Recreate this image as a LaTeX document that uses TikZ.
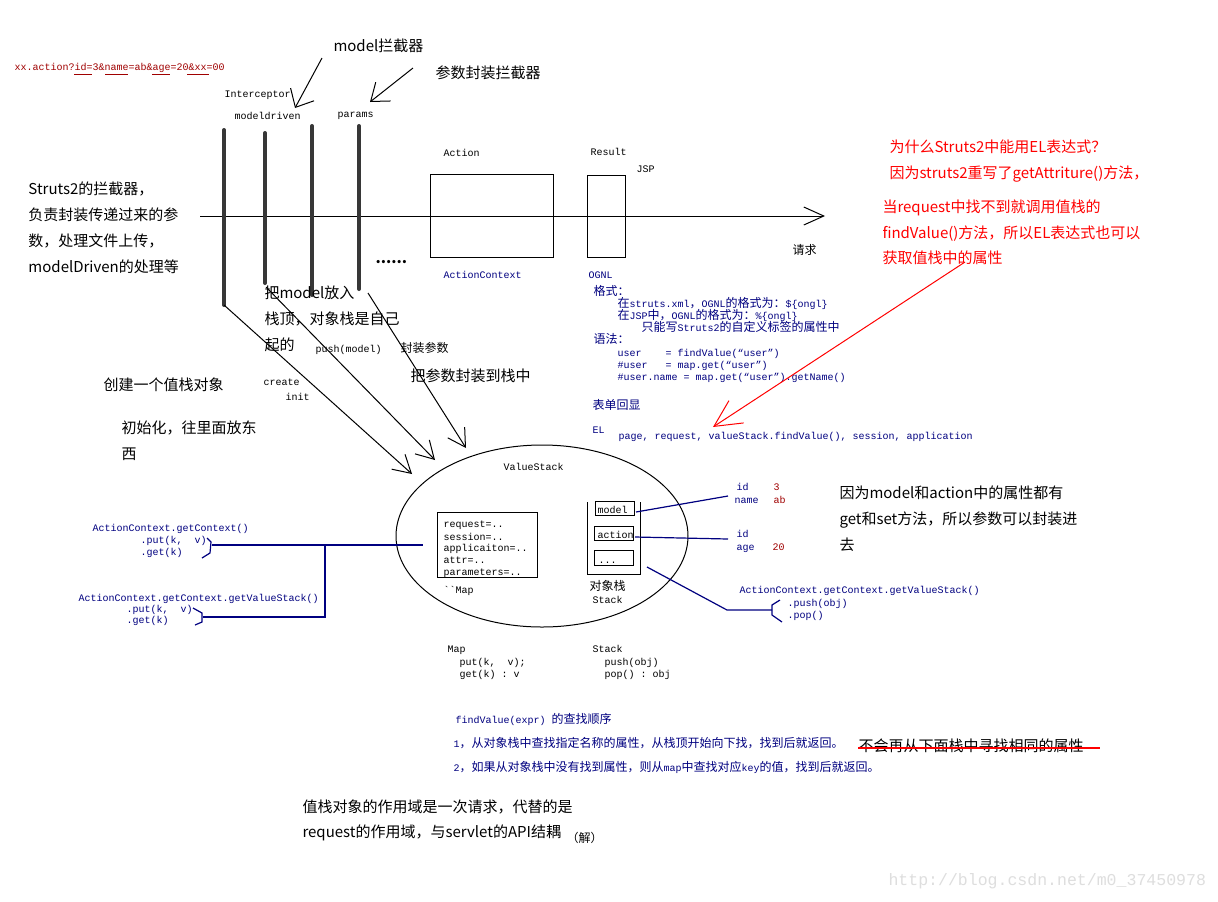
\documentclass[tikz,border=0pt]{standalone}
\usepackage{fontspec}
\setmonofont{Liberation Mono}
\newfontfamily\cjk{Noto Sans CJK SC}
\usetikzlibrary{arrows.meta}
\definecolor{navy}{RGB}{0,0,128}
\definecolor{dred}{RGB}{160,0,0}
\definecolor{bargray}{RGB}{55,55,55}
\definecolor{wm}{RGB}{222,222,222}
\newcommand\zh[1]{{\cjk\fontsize{9}{9}\selectfont #1}}
\tikzset{
  sm/.style={font=\ttfamily\fontsize{7.5}{9}\selectfont, inner sep=0pt, anchor=west, text height=7pt, text depth=1pt},
  lg/.style={font=\cjk\fontsize{11.25}{13}\selectfont, inner sep=0pt, anchor=west, text height=10.6pt, text depth=2pt},
  bar/.style={line width=3pt, draw=bargray, line cap=round},
  bluel/.style={draw=navy, line width=0.9pt},
  box/.style={draw, inner sep=0pt}
}
\begin{document}
\begin{tikzpicture}[x=0.75pt,y=-0.75pt,line width=0.75pt]
\fill[white] (0,0) rectangle (1218,901);
\useasboundingbox (0,0) rectangle (1218,901);

% URL
\node[sm,text=dred] (url) at (14,66) {xx.action?id=3\&name=ab\&age=20\&xx=00};
\foreach \a/\b in {74/92,105/128,152/170,187/209} \draw[dred] (\a,74) -- (\b,74);

% top labels
\node[lg] (lmodel) at (333,46) {model拦截器};
\node[lg] (lparams) at (435,73) {参数封装拦截器};
\coordinate (m1) at (322,58); \coordinate (m2) at (295,108);
\draw[-{Straight Barb[length=11pt,width=20pt]}] (m1) -- (m2);
\coordinate (p1) at (413,68); \coordinate (p2) at (370,102);
\draw[-{Straight Barb[length=12pt,width=18pt]}] (p1) -- (p2);

\node[sm] (icp) at (224,93) {Interceptor};
\node[sm] (md) at (234,115) {modeldriven};
\node[sm] (prm) at (337,113) {params};

% main request line
\coordinate (hs) at (200,216); \coordinate (he) at (825,216);
\draw[-{Straight Barb[length=15pt,width=13.5pt]}] (hs) -- (he);
\node[font=\cjk\fontsize{9}{9}\selectfont, inner sep=0pt, anchor=west] (req) at (792,250) {请求};

% interceptor bars
\coordinate (b1t) at (224,130); \coordinate (b1b) at (224,305);
\coordinate (b2t) at (265,133); \coordinate (b2b) at (265,283);
\coordinate (b3t) at (312,126); \coordinate (b3b) at (312,295);
\coordinate (b4t) at (359,126); \coordinate (b4b) at (359,289);
\draw[bar] (b1t) -- (b1b);
\draw[bar] (b2t) -- (b2b);
\draw[bar] (b3t) -- (b3b);
\draw[bar] (b4t) -- (b4b);
\node[lg,font=\cjk\bfseries\fontsize{11.25}{13}\selectfont] (dots) at (375,258) {......};

% Action / Result
\node[box, minimum width=92.25pt, minimum height=62.25pt] (action) at (491.5,215.5) {};
\node[sm] (lact) at (443,152) {Action};
\node[sm,text=navy] (lactc) at (443,274) {ActionContext};
\node[box, minimum width=28.5pt, minimum height=61.5pt] (result) at (606,216) {};
\node[sm] (lres) at (590,151) {Result};
\node[sm] (ljsp) at (636,168) {JSP};
\node[sm,text=navy] (logn) at (588,274) {OGNL};

% OGNL block
\node[sm,text=navy] (g1) at (593,291) {\zh{格式：}};
\node[sm,text=navy] (g2) at (617,303) {\zh{在}struts.xml\zh{，}OGNL\zh{的格式为：}\$\{ongl\}};
\node[sm,text=navy] (g3) at (617,315) {\zh{在}JSP\zh{中，}OGNL\zh{的格式为：}\%\{ongl\}};
\node[sm,text=navy] (g4) at (641,327) {\zh{只能写}Struts2\zh{的自定义标签的属性中}};
\node[sm,text=navy] (g5) at (593,339) {\zh{语法：}};
\node[sm,text=navy] (g6) at (617,352) {user~~~~= findValue(“user”)};
\node[sm,text=navy] (g7) at (617,364) {\#user~~~= map.get(“user”)};
\node[sm,text=navy] (g8) at (617,376) {\#user.name = map.get(“user”).getName()};
\node[sm,text=navy] (g9) at (592,405) {\zh{表单回显}};
\node[sm,text=navy] (g10) at (592,429) {EL};
\node[sm,text=navy] (g11) at (618,435) {page, request, valueStack.findValue(), session, application};

% red notes
\node[lg,text=red] (r1t) at (889,147) {为什么Struts2中能用EL表达式？};
\node[lg,text=red] (r2t) at (889,173) {因为struts2重写了getAttriture()方法，};
\node[lg,text=red] (r3t) at (882,207) {当request中找不到就调用值栈的};
\node[lg,text=red] (r4t) at (882,233) {findValue()方法，所以EL表达式也可以};
\node[lg,text=red] (r5t) at (882,258) {获取值栈中的属性};
\coordinate (ra) at (965,262); \coordinate (rb) at (713,427);
\draw[red, -{Straight Barb[length=20pt,width=20pt]}] (ra) -- (rb);

% left notes
\node[lg] (s1) at (28,189) {Struts2的拦截器，};
\node[lg] (s2) at (28,215) {负责封装传递过来的参};
\node[lg] (s3) at (28,241) {数，处理文件上传，};
\node[lg] (s4) at (28,267) {modelDriven的处理等};

\node[lg] (pm1) at (264,293) {把model放入};
\node[lg] (pm2) at (264,319) {栈顶，对象栈是自己};
\node[lg] (pm3) at (264,345) {起的};
\node[sm] (pushm) at (315,348) {push(model)};
\node[font=\cjk\fontsize{9}{9}\selectfont, inner sep=0pt, anchor=west] (fzcs) at (400,348) {封装参数};
\node[lg] (bcs) at (410,376) {把参数封装到栈中};
\node[lg] (cj) at (103,385) {创建一个值栈对象};
\node[sm] (crt) at (263,381) {create};
\node[sm] (ini) at (285,396) {init};
\node[lg] (csh1) at (121,428) {初始化，往里面放东};
\node[lg] (csh2) at (121,454) {西};

% diagonal arrows into the value stack
\coordinate (d1e) at (412,474);
\coordinate (d2s) at (266,287); \coordinate (d2e) at (435,460);
\coordinate (d3s) at (368,293); \coordinate (d3e) at (466,448);
\draw[-{Straight Barb[length=13pt,width=15pt]}] (b1b) -- (d1e);
\draw[-{Straight Barb[length=13pt,width=15pt]}] (d2s) -- (d2e);
\draw[-{Straight Barb[length=13pt,width=15pt]}] (d3s) -- (d3e);

% ValueStack
\draw (542,536) ellipse [x radius=146, y radius=91];
\node[sm] (vs) at (503,466) {ValueStack};
\node[box, minimum width=75pt, minimum height=48.75pt] (mapbox) at (487,544.5) {};
\node[sm] (mp1) at (443,523) {request=..};
\node[sm] (mp2) at (443,536) {session=..};
\node[sm] (mp3) at (443,547) {applicaiton=..};
\node[sm] (mp4) at (443,559) {attr=..};
\node[sm] (mp5) at (443,571) {parameters=..};
\node[sm] (mpl) at (443,589) {\textasciigrave\textasciigrave Map};
\coordinate (st1) at (587,502); \coordinate (st2) at (587,574);
\coordinate (st3) at (640,574); \coordinate (st4) at (640,502);
\draw (st1) -- (st2) -- (st3) -- (st4);
\node[box, minimum width=29.25pt, minimum height=10.5pt] (mbox) at (614.5,508) {};
\node[sm] (mtx) at (597,509) {model};
\node[box, minimum width=29.25pt, minimum height=10.5pt] (abox) at (613.5,533) {};
\node[sm] (atx) at (597,534) {action};
\node[box, minimum width=29.25pt, minimum height=11.25pt] (dbox) at (613.5,557.5) {};
\node[sm] (dtx) at (598,559) {...};
\node[sm] (dxz) at (589,586) {\zh{对象栈}};
\node[sm] (stk) at (592,599) {Stack};

% right side of stack
\coordinate (mo1) at (636,512); \coordinate (mo2) at (728,496);
\coordinate (ac1) at (635,537); \coordinate (ac2) at (728,539);
\coordinate (sk1) at (647,567); \coordinate (sk2) at (727,610); \coordinate (sk3) at (772,610);
\draw[bluel] (mo1) -- (mo2);
\draw[bluel] (ac1) -- (ac2);
\draw[bluel] (sk1) -- (sk2) -- (sk3);
\draw[bluel] (780,600) -- (772,605) -- (772,615) -- (782,622);
\node[sm,text=navy] (id1) at (736,486) {id};
\node[sm,text=dred] (v3) at (773,486) {3};
\node[sm,text=navy] (nm) at (734,499) {name};
\node[sm,text=dred] (vab) at (773,499) {ab};
\node[sm,text=navy] (id2) at (736,533) {id};
\node[sm,text=navy] (ag) at (736,546) {age};
\node[sm,text=dred] (v20) at (772,546) {20};
\node[sm,text=navy] (acv) at (739,589) {ActionContext.getContext.getValueStack()};
\node[sm,text=navy] (psh) at (787,602) {.push(obj)};
\node[sm,text=navy] (pop) at (787,614) {.pop()};

\node[lg] (ma1) at (839,493) {因为model和action中的属性都有};
\node[lg] (ma2) at (839,519) {get和set方法，所以参数可以封装进};
\node[lg] (ma3) at (839,545) {去};

% left ActionContext
\node[sm,text=navy] (ac1t) at (92,527) {ActionContext.getContext()};
\node[sm,text=navy] (ac1p) at (140,539) {.put(k,~~v)};
\node[sm,text=navy] (ac1g) at (140,551) {.get(k)};
\node[sm,text=navy] (ac2t) at (78,597) {ActionContext.getContext.getValueStack()};
\node[sm,text=navy] (ac2p) at (126,608) {.put(k,~~v)};
\node[sm,text=navy] (ac2g) at (126,619) {.get(k)};
\coordinate (la) at (212,545); \coordinate (lb) at (423,545);
\coordinate (lc) at (325,545); \coordinate (ld) at (325,617); \coordinate (le) at (203,617);
\draw[bluel] (la) -- (lb);
\draw[bluel] (lc) -- (ld) -- (le);
\draw[bluel] (207,538) -- (211,542) -- (210,553) -- (202,558);
\draw[bluel] (193,608) -- (202,613) -- (202,622) -- (195,625);

% Map / Stack API
\node[sm] (mapa) at (447,648) {Map};
\node[sm] (mapb) at (459,661) {put(k,~~v);};
\node[sm] (mapc) at (459,673) {get(k) : v};
\node[sm] (stka) at (592,648) {Stack};
\node[sm] (stkb) at (604,661) {push(obj)};
\node[sm] (stkc) at (604,673) {pop() : obj};

% findValue order
\node[sm,text=navy] (fv0) at (455,719) {findValue(expr) \zh{的查找顺序}};
\node[sm,text=navy] (fv1) at (453,743) {1\zh{，从对象栈中查找指定名称的属性，从栈顶开始向下找，找到后就返回。}};
\node[lg] (fvx) at (858,746) {不会再从下面栈中寻找相同的属性};
\draw[red, line width=1pt] (fvx.west) ++(0,2) -- (1100,748);
\node[sm,text=navy] (fv2) at (453,767) {2\zh{，如果从对象栈中没有找到属性，则从}map\zh{中查找对应}key\zh{的值，找到后就返回。}};

% bottom note
\node[lg] (bt1) at (302,807) {值栈对象的作用域是一次请求，代替的是};
\node[lg] (bt2) at (302,832) {request的作用域，与servlet的API结耦};
\node[font=\cjk\fontsize{9}{9}\selectfont, inner sep=0pt, anchor=west] (jie) at (566,838) {（解）};

% watermark
\node[font=\ttfamily\fontsize{12.4}{14}\selectfont, text=wm, inner sep=0pt, anchor=west] (wmk) at (888,881) {http://blog.csdn.net/m0\_37450978};
\end{tikzpicture}
\end{document}
